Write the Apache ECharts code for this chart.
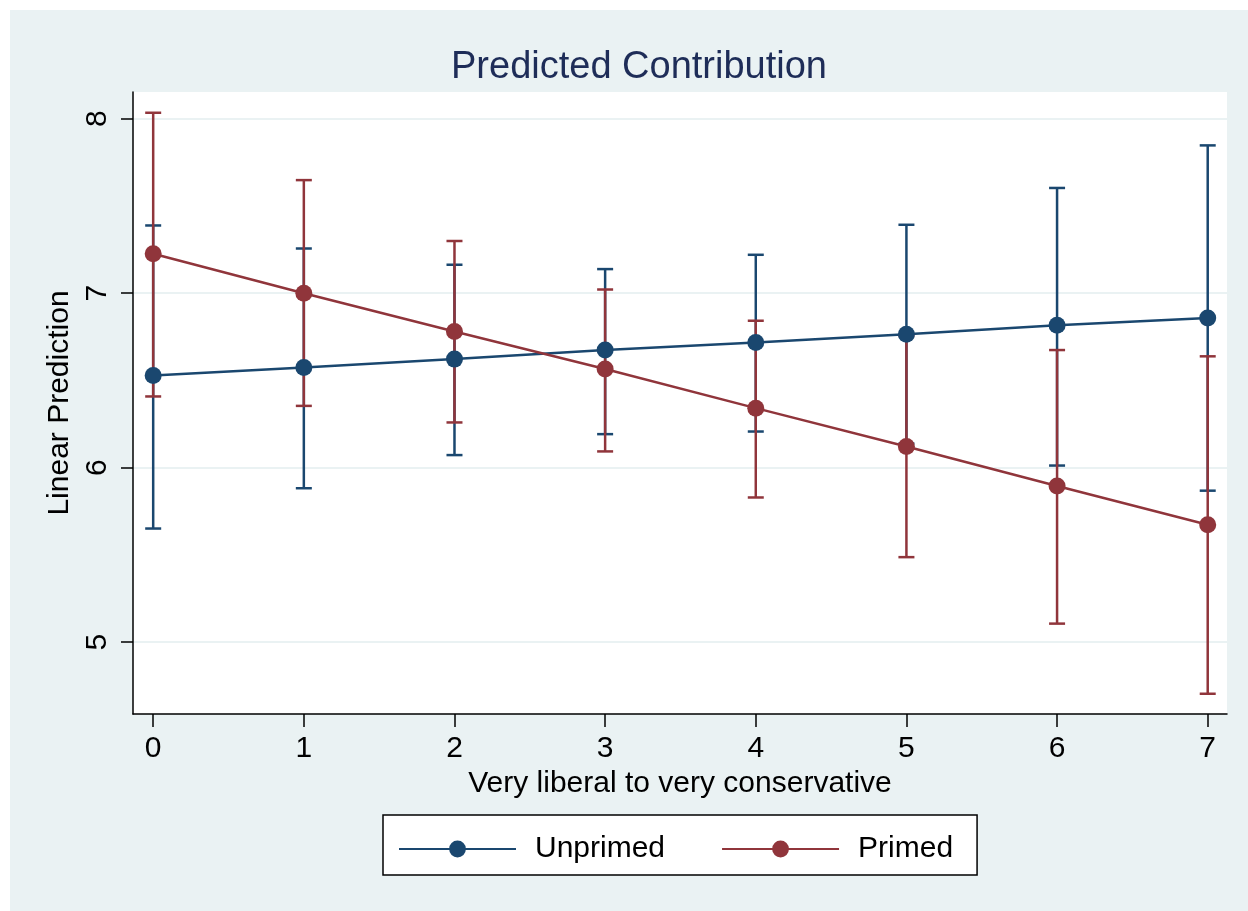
<!DOCTYPE html>
<html>
<head>
<meta charset="utf-8">
<script src="https://cdn.jsdelivr.net/npm/echarts@6/dist/echarts.min.js"></script>
<style>
html,body{margin:0;padding:0;background:#ffffff;}
#chart{width:1248px;height:911px;}
</style>
</head>
<body>
<div id="chart"></div>
<script>
// ---- data ----
const xValues = [0, 1, 2, 3, 4, 5, 6, 7];
const unprimedMean = [6.528, 6.574, 6.622, 6.674, 6.717, 6.765, 6.816, 6.858];
const unprimedLow  = [5.651, 5.882, 6.072, 6.192, 6.207, 6.138, 6.012, 5.868];
const unprimedHigh = [7.388, 7.256, 7.163, 7.138, 7.220, 7.392, 7.603, 7.847];
const primedMean = [7.226, 7.000, 6.780, 6.565, 6.341, 6.121, 5.895, 5.673];
const primedLow  = [6.408, 6.354, 6.259, 6.093, 5.829, 5.487, 5.106, 4.704];
const primedHigh = [8.034, 7.648, 7.299, 7.021, 6.842, 6.755, 6.674, 6.638];
const xTicks = [0, 1, 2, 3, 4, 5, 6, 7];
const yTicks = [5, 6, 7, 8];
const seriesNames = ['Unprimed', 'Primed'];
const titleText = 'Predicted Contribution';
const xTitle = 'Very liberal to very conservative';
const yTitle = 'Linear Prediction';

const BLUE = '#1a476f';
const RED = '#90353b';
const FONT = "'Liberation Sans', Arial, Helvetica, sans-serif";

function ciRender(color) {
  return function (params, api) {
    const x = api.value(0), lo = api.value(1), hi = api.value(2);
    const pLo = api.coord([x, lo]);
    const pHi = api.coord([x, hi]);
    const hw = 8;
    const style = { stroke: color, lineWidth: 2.5, fill: null };
    return {
      type: 'group',
      children: [
        { type: 'line', shape: { x1: pLo[0], y1: pLo[1], x2: pHi[0], y2: pHi[1] }, style: style },
        { type: 'line', shape: { x1: pLo[0] - hw, y1: pLo[1], x2: pLo[0] + hw, y2: pLo[1] }, style: style },
        { type: 'line', shape: { x1: pHi[0] - hw, y1: pHi[1], x2: pHi[0] + hw, y2: pHi[1] }, style: style }
      ]
    };
  };
}

const chart = echarts.init(document.getElementById('chart'), null, { renderer: 'canvas' });
const option = {
  backgroundColor: 'transparent',
  animation: false,
  textStyle: { fontFamily: FONT },
  graphic: [{
    type: 'rect', z: -10, silent: true,
    shape: { x: 10, y: 10, width: 1238, height: 901 },
    style: { fill: '#eaf2f3' }
  }],
  title: {
    text: titleText,
    left: 634, top: 44, textAlign: 'center',
    textStyle: { fontFamily: FONT, fontSize: 38, fontWeight: 'normal', color: '#1e2d58' }
  },
  grid: {
    left: 133, right: 21, top: 92, bottom: 197,
    show: true, backgroundColor: '#ffffff', borderWidth: 0
  },
  legend: {
    data: seriesNames,
    left: 383, top: 815,
    orient: 'horizontal',
    backgroundColor: '#ffffff',
    borderColor: '#000000', borderWidth: 1.5, borderRadius: 0,
    padding: [19, 24, 11, 15],
    itemGap: 56,
    itemWidth: 117, itemHeight: 21,
    textStyle: { fontFamily: FONT, fontSize: 30, color: '#000000', lineHeight: 30, padding: [0, 0, 0, 14] }
  },
  xAxis: {
    type: 'value',
    min: -0.134, max: 7.128,
    name: xTitle, nameLocation: 'middle', nameGap: 54,
    nameTextStyle: { fontFamily: FONT, fontSize: 30, color: '#000000' },
    axisLine: { show: true, onZero: false, lineStyle: { color: '#000000', width: 1.5 } },
    axisTick: { show: true, length: 13, customValues: xTicks, lineStyle: { color: '#000000', width: 1.5 } },
    axisLabel: { show: true, customValues: xTicks, margin: 20, fontFamily: FONT, fontSize: 30, color: '#000000' },
    splitLine: { show: false }
  },
  yAxis: {
    type: 'value',
    min: 4.588, max: 8.153,
    name: yTitle, nameLocation: 'middle', nameGap: 42, nameRotate: 90,
    nameTextStyle: { fontFamily: FONT, fontSize: 30, color: '#000000' },
    axisLine: { show: true, onZero: false, lineStyle: { color: '#000000', width: 1.5 } },
    axisTick: { show: true, length: 12, customValues: yTicks, lineStyle: { color: '#000000', width: 1.5 } },
    axisLabel: { show: true, customValues: yTicks, rotate: 90, margin: 20, fontFamily: FONT, fontSize: 30, color: '#000000' },
    splitLine: { show: true, lineStyle: { color: '#eaf2f3', width: 2 } }
  },
  series: [
    {
      name: 'Unprimed CI', type: 'custom', z: 1,
      renderItem: ciRender(BLUE),
      encode: { x: 0, y: [1, 2] },
      data: xValues.map((x, i) => [x, unprimedLow[i], unprimedHigh[i]])
    },
    {
      name: 'Primed CI', type: 'custom', z: 2,
      renderItem: ciRender(RED),
      encode: { x: 0, y: [1, 2] },
      data: xValues.map((x, i) => [x, primedLow[i], primedHigh[i]])
    },
    {
      name: 'Unprimed', type: 'line', z: 3,
      symbol: 'circle', symbolSize: 17,
      color: BLUE,
      itemStyle: { color: BLUE },
      lineStyle: { color: BLUE, width: 2.5 },
      data: xValues.map((x, i) => [x, unprimedMean[i]])
    },
    {
      name: 'Primed', type: 'line', z: 4,
      symbol: 'circle', symbolSize: 17,
      color: RED,
      itemStyle: { color: RED },
      lineStyle: { color: RED, width: 2.5 },
      data: xValues.map((x, i) => [x, primedMean[i]])
    }
  ]
};
chart.setOption(option);
</script>
</body>
</html>
